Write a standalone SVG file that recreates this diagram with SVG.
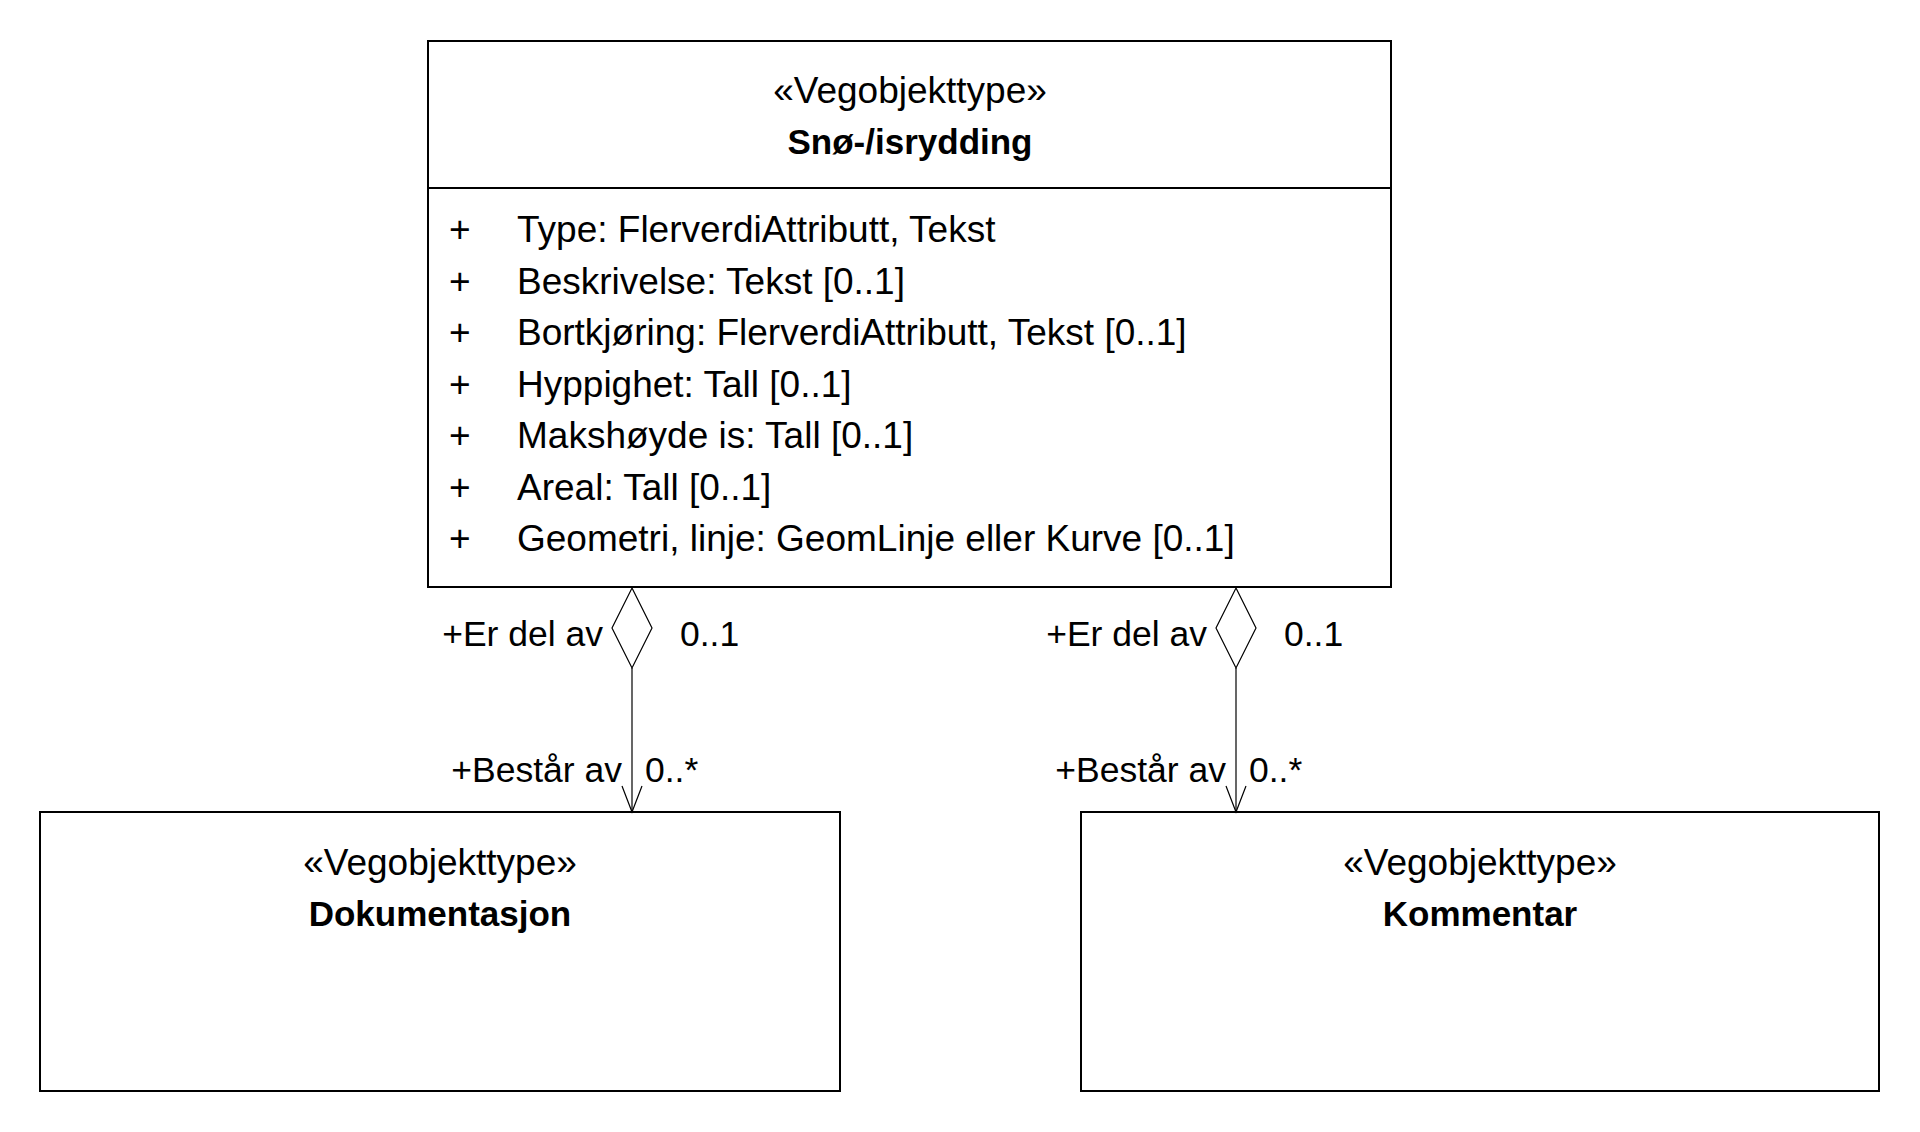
<svg xmlns="http://www.w3.org/2000/svg" width="1920" height="1132" viewBox="0 0 1920 1132">
<style>
.box{fill:#fff;stroke:#000;stroke-width:2}
.sep{stroke:#000;stroke-width:2}
.t{font-family:"Liberation Sans",Arial,sans-serif;font-size:37px;fill:#000}
.l{font-family:"Liberation Sans",Arial,sans-serif;font-size:35.5px;fill:#000}
.b{font-family:"Liberation Sans",Arial,sans-serif;font-size:35px;font-weight:bold;fill:#000}
.c{text-anchor:middle}
.e{text-anchor:end}
.ln{stroke:#000;stroke-width:1.2;fill:none}
.dia{stroke:#000;stroke-width:1.2;fill:#fff}
</style>
<rect width="1920" height="1132" fill="#fff"/>
<g id="node-snoisrydding">
<rect class="box" x="428" y="41" width="963" height="546"/>
<line class="sep" x1="428" y1="188" x2="1391" y2="188"/>
<text class="t c" x="910" y="103">«Vegobjekttype»</text>
<text class="b c" x="910" y="154">Snø-/isrydding</text>
<g class="t">
<text x="449" y="242">+</text><text x="517" y="242">Type: FlerverdiAttributt, Tekst</text>
<text x="449" y="293.5">+</text><text x="517" y="293.5">Beskrivelse: Tekst [0..1]</text>
<text x="449" y="345">+</text><text x="517" y="345">Bortkjøring: FlerverdiAttributt, Tekst [0..1]</text>
<text x="449" y="396.5">+</text><text x="517" y="396.5">Hyppighet: Tall [0..1]</text>
<text x="449" y="448">+</text><text x="517" y="448">Makshøyde is: Tall [0..1]</text>
<text x="449" y="499.5">+</text><text x="517" y="499.5">Areal: Tall [0..1]</text>
<text x="449" y="551">+</text><text x="517" y="551">Geometri, linje: GeomLinje eller Kurve [0..1]</text>
</g>
</g>
<g id="node-dokumentasjon">
<rect class="box" x="40" y="812" width="800" height="279"/>
<text class="t c" x="440" y="875">«Vegobjekttype»</text>
<text class="b c" x="440" y="926">Dokumentasjon</text>
</g>
<g id="node-kommentar">
<rect class="box" x="1081" y="812" width="798" height="279"/>
<text class="t c" x="1480" y="875">«Vegobjekttype»</text>
<text class="b c" x="1480" y="926">Kommentar</text>
</g>
<g id="connectors">
<g id="conn-dokumentasjon">
<line class="ln" x1="632" y1="668" x2="632" y2="812"/>
<polygon class="dia" points="632,588 652,628 632,668 612,628"/>
<polyline class="ln" points="622,786 632,812 642,786"/>
<text class="l e" x="603" y="646">+Er del av</text>
<text class="l" x="680" y="646">0..1</text>
<text class="l e" x="622" y="782">+Består av</text>
<text class="l" x="645" y="782">0..*</text>
</g>
<g id="conn-kommentar">
<line class="ln" x1="1236" y1="668" x2="1236" y2="812"/>
<polygon class="dia" points="1236,588 1256,628 1236,668 1216,628"/>
<polyline class="ln" points="1226,786 1236,812 1246,786"/>
<text class="l e" x="1207" y="646">+Er del av</text>
<text class="l" x="1284" y="646">0..1</text>
<text class="l e" x="1226" y="782">+Består av</text>
<text class="l" x="1249" y="782">0..*</text>
</g>
</g>
</svg>
